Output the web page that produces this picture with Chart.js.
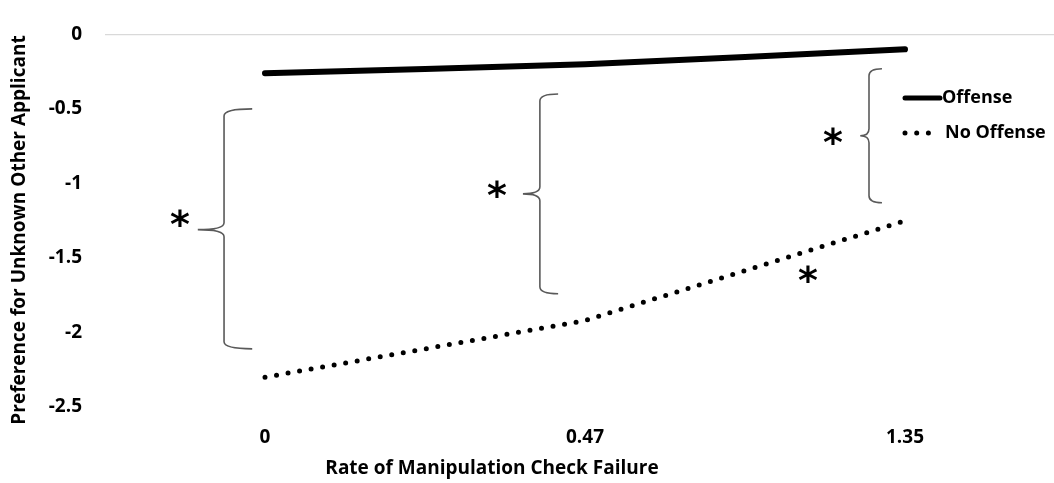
<!DOCTYPE html>
<html>
<head>
<meta charset="utf-8">
<script src="https://cdn.jsdelivr.net/npm/chart.js@4.4.1/dist/chart.umd.min.js"></script>
<style>
  html, body { margin: 0; padding: 0; background: #fff; overflow: hidden; }
  #wrap { width: 1054px; height: 483px; overflow: hidden; }
</style>
</head>
<body>
<div id="wrap"><canvas id="chart" width="1072" height="483"></canvas></div>
<script>
const categories = ['0', '0.47', '1.35'];
const offenseValues = [-0.26, -0.20, -0.10];
const noOffenseValues = [-2.30, -1.92, -1.25];
const yTickValues = [0, -0.5, -1, -1.5, -2, -2.5];
const yTickLabels = ['0', '-0.5', '-1', '-1.5', '-2', '-2.5'];

// significance braces (y span in axis units)
const braceTops = [-0.50, -0.40, -0.23];
const braceMids = [-1.31, -1.07, -0.68];
const braceBottoms = [-2.11, -1.74, -1.13];
// asterisk values on the y axis
const starValues = [-1.23, -1.04, -0.68, -1.61];

const FONT = '"Open Sans", "Noto Sans", sans-serif';

// where the braces / stars sit, in category units
const braceLayout = [
  { x: -0.128, arm: -0.04, tip: -0.21 },
  { x: 0.859, arm: 0.916, tip: 0.806 },
  { x: 1.8875, arm: 1.928, tip: 1.86 }
];
const starX = [-0.266, 0.725, 1.775, 1.697];

function drawBrace(ctx, x, armX, tipX, yTop, yMid, yBot) {
  const r = 7;
  ctx.beginPath();
  ctx.moveTo(armX, yTop);
  ctx.quadraticCurveTo(x, yTop, x, yTop + r);
  ctx.lineTo(x, yMid - r);
  ctx.quadraticCurveTo(x, yMid, tipX, yMid);
  ctx.quadraticCurveTo(x, yMid, x, yMid + r);
  ctx.lineTo(x, yBot - r);
  ctx.quadraticCurveTo(x, yBot, armX, yBot);
  ctx.stroke();
}

const annotations = {
  id: 'annotations',
  afterDatasetsDraw(chart) {
    const { ctx, scales: { x, y } } = chart;
    ctx.save();
    ctx.strokeStyle = '#5a5a5a';
    ctx.lineWidth = 1.6;
    braceLayout.forEach((b, i) => {
      drawBrace(ctx,
        x.getPixelForValue(b.x), x.getPixelForValue(b.arm), x.getPixelForValue(b.tip),
        y.getPixelForValue(braceTops[i]), y.getPixelForValue(braceMids[i]),
        y.getPixelForValue(braceBottoms[i]));
    });

    ctx.fillStyle = '#000';
    ctx.font = 'bold 38px "DejaVu Sans", sans-serif';
    ctx.textAlign = 'center';
    ctx.textBaseline = 'alphabetic';
    const m = ctx.measureText('*');
    const shift = (m.actualBoundingBoxAscent - m.actualBoundingBoxDescent) / 2;
    starValues.forEach((v, i) => {
      ctx.fillText('*', x.getPixelForValue(starX[i]), y.getPixelForValue(v) + shift);
    });

    // axis titles
    ctx.font = 'bold 19px ' + FONT;
    ctx.textBaseline = 'middle';
    ctx.fillText('Rate of Manipulation Check Failure', 492, 469);
    ctx.save();
    ctx.translate(20, 230);
    ctx.rotate(-Math.PI / 2);
    ctx.fillText('Preference for Unknown Other Applicant', 0, 0);
    ctx.restore();

    // legend
    ctx.textAlign = 'left';
    ctx.font = 'bold 18px ' + FONT;
    chart.data.datasets.forEach((ds, i) => {
      const ly = 98 + i * 35;
      ctx.save();
      ctx.strokeStyle = ds.borderColor;
      ctx.lineWidth = i === 0 ? 5 : ds.borderWidth;
      ctx.lineCap = 'round';
      ctx.setLineDash(ds.borderDash || []);
      ctx.beginPath();
      ctx.moveTo(905, ly);
      ctx.lineTo(i === 0 ? 940 : 929, ly);
      ctx.stroke();
      ctx.restore();
      ctx.fillText(ds.label, i === 0 ? 942 : 945, ly);
    });
    ctx.restore();
  }
};

new Chart(document.getElementById('chart'), {
  type: 'line',
  data: {
    labels: categories,
    datasets: [
      {
        label: 'Offense',
        data: offenseValues,
        borderColor: '#000',
        borderWidth: 6,
        borderCapStyle: 'round',
        pointRadius: 0,
        tension: 0.2
      },
      {
        label: 'No Offense',
        data: noOffenseValues,
        borderColor: '#000',
        borderWidth: 5,
        borderDash: [0, 11.7],
        borderCapStyle: 'round',
        pointRadius: 0,
        tension: 0
      }
    ]
  },
  options: {
    responsive: false,
    animation: false,
    devicePixelRatio: 1,
    layout: { padding: { top: 23, right: 7, left: 0, bottom: 0 } },
    plugins: { legend: { display: false }, tooltip: { enabled: false } },
    scales: {
      x: {
        offset: true,
        border: { display: false },
        grid: { display: false, drawTicks: false },
        ticks: { padding: 19, color: '#000', font: { family: FONT, size: 19, weight: 'bold' } },
        afterFit: s => { s.height = 76; }
      },
      y: {
        min: -2.5,
        max: 0,
        border: { display: false },
        grid: {
          drawTicks: false,
          lineWidth: 1.3,
          color: c => (c.tick && c.tick.value === 0 ? '#d9d9d9' : 'rgba(0,0,0,0)')
        },
        afterBuildTicks: s => { s.ticks = yTickValues.map(v => ({ value: v })); },
        ticks: {
          padding: 23,
          color: '#000',
          font: { family: FONT, size: 19, weight: 'bold' },
          callback: (v) => yTickLabels[yTickValues.indexOf(v)]
        },
        afterFit: s => { s.width = 105; }
      }
    }
  },
  plugins: [annotations]
});
</script>
</body>
</html>
